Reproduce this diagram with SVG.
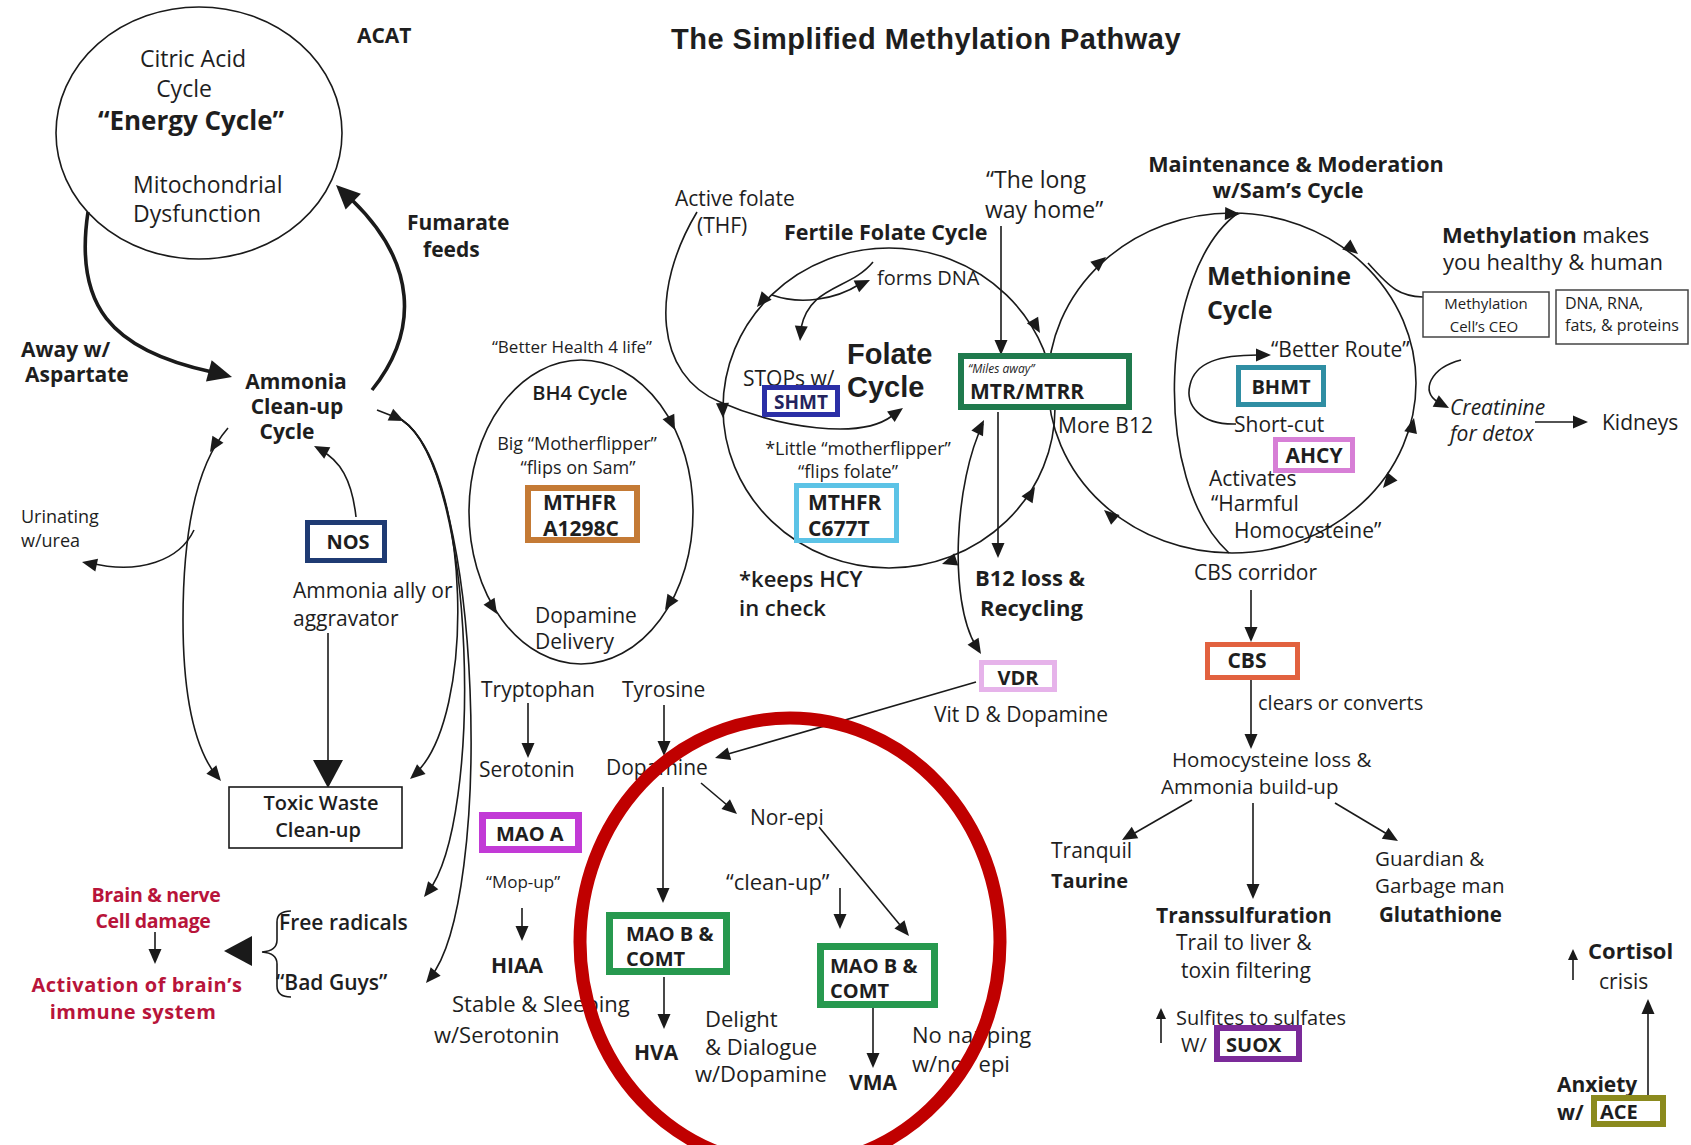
<svg xmlns="http://www.w3.org/2000/svg" width="1691" height="1145" viewBox="0 0 1691 1145">
<style>
.t{font-family:'Open Sans','Liberation Sans',Arial,sans-serif;fill:#1e1e1e;font-size:21px}
.b{font-weight:700}
.c{text-anchor:middle}
.i{font-style:italic}
.ln{fill:none;stroke:#1a1a1a;stroke-width:1.6}
.thk{stroke-width:3.6}
.bx{fill:#fff}
.red{fill:#b8143a}
.ah{fill:#1a1a1a}
</style>
<defs>
<path id="ah" d="M0,0 L-15,-6.5 L-15,6.5 Z"/>
<path id="ahS" d="M0,0 L-11,-5 L-11,5 Z"/>
<path id="ahB" d="M0,0 L-24,-11 L-24,11 Z"/>
<path id="ahX" d="M0,0 L-28,-15 L-28,15 Z"/>
</defs>
<rect width="1691" height="1145" fill="#fff"/>

<g id="title"><text class="t b" x="671" y="49" style="font-family:'Liberation Sans',Arial,sans-serif;font-size:29px;letter-spacing:0.5px">The Simplified Methylation Pathway</text></g>

<g id="connectors">
<path class="ln thk" d="M88,212 C74,305 110,350 212,372"/>
<use href="#ahB" class="ah" transform="translate(232,377) rotate(15)"/>
<path class="ln thk" d="M372,390 C420,330 416,262 352,200"/>
<use href="#ahB" class="ah" transform="translate(336,185) rotate(-136)"/>
<path class="ln" d="M228,428 C200,460 183,520 183,620 C183,700 195,750 218,778"/>
<use href="#ah" class="ah" transform="translate(210,452) rotate(122)"/>
<use href="#ah" class="ah" transform="translate(221,781) rotate(50)"/>
<path class="ln" d="M194,530 C180,560 140,575 90,563"/>
<use href="#ah" class="ah" transform="translate(82,562) rotate(192)"/>
<path class="ln" d="M356,517 C352,480 340,460 320,450"/>
<use href="#ah" class="ah" transform="translate(314,446) rotate(-152)"/>
<path class="ln" d="M328,633 L328,762"/>
<use href="#ahX" class="ah" transform="translate(328,788) rotate(90)"/>
<path class="ln" d="M377,410 L400,419"/>
<use href="#ah" class="ah" transform="translate(404,421) rotate(25)"/>
<path class="ln" d="M402,420 C470,468 478,718 414,775"/>
<use href="#ah" class="ah" transform="translate(410,779) rotate(139)"/>
<path class="ln" d="M402,420 C476,470 484,820 428,892"/>
<use href="#ah" class="ah" transform="translate(424,897) rotate(128)"/>
<path class="ln" d="M402,420 C482,472 494,900 430,978"/>
<use href="#ah" class="ah" transform="translate(426,983) rotate(130)"/>
<path class="ln" d="M155,932 L155,952"/>
<use href="#ah" class="ah" transform="translate(155,964) rotate(90)"/>
<use href="#ahX" class="ah" transform="translate(224,951) rotate(180)"/>
<path class="ln" d="M291,911 Q277,911 277,922 L277,940 Q277,951 262,952 Q277,953 277,964 L277,986 Q277,997 291,997"/>

<ellipse class="ln" cx="581" cy="512" rx="112" ry="152"/>
<use href="#ah" class="ah" transform="translate(675,430) rotate(64)"/>
<use href="#ah" class="ah" transform="translate(665,610) rotate(122)"/>
<use href="#ah" class="ah" transform="translate(497,614) rotate(58)"/>

<ellipse class="ln" cx="889" cy="408" rx="166" ry="160"/>
<use href="#ah" class="ah" transform="translate(757,307) rotate(130)"/>
<use href="#ah" class="ah" transform="translate(723,418) rotate(88)"/>
<use href="#ah" class="ah" transform="translate(942,564) rotate(162)"/>
<use href="#ah" class="ah" transform="translate(1035,487) rotate(-58)"/>
<use href="#ah" class="ah" transform="translate(1040,333) rotate(60)"/>
<path class="ln" d="M697,212 C650,290 655,375 720,402 C780,428 860,440 892,416"/>
<use href="#ah" class="ah" transform="translate(903,408) rotate(-36)"/>
<path class="ln" d="M772,295 C800,305 835,300 860,284"/>
<use href="#ah" class="ah" transform="translate(870,280) rotate(-25)"/>
<path class="ln" d="M873,262 C850,290 810,285 801,328"/>
<use href="#ah" class="ah" transform="translate(800,341) rotate(95)"/>
<path class="ln" d="M1001,226 L1001,342"/>
<use href="#ah" class="ah" transform="translate(1001,355) rotate(90)"/>
<path class="ln" d="M998,412 L998,545"/>
<use href="#ah" class="ah" transform="translate(998,558) rotate(90)"/>
<path class="ln" d="M983,424 C955,480 948,600 976,646"/>
<use href="#ah" class="ah" transform="translate(984,420) rotate(-63)"/>
<use href="#ah" class="ah" transform="translate(981,654) rotate(58)"/>
<path class="ln" d="M976,682 L728,754"/>
<use href="#ah" class="ah" transform="translate(715,758) rotate(164)"/>

<path class="ln" d="M528,703 L528,745"/>
<use href="#ah" class="ah" transform="translate(528,758) rotate(90)"/>
<path class="ln" d="M664,705 L664,743"/>
<use href="#ah" class="ah" transform="translate(664,756) rotate(90)"/>
<path class="ln" d="M701,783 L727,805"/>
<use href="#ah" class="ah" transform="translate(737,814) rotate(41)"/>
<path class="ln" d="M663,787 L663,889"/>
<use href="#ah" class="ah" transform="translate(663,903) rotate(90)"/>
<path class="ln" d="M522,908 L522,928"/>
<use href="#ah" class="ah" transform="translate(522,941) rotate(90)"/>
<path class="ln" d="M664,977 L664,1016"/>
<use href="#ah" class="ah" transform="translate(664,1029) rotate(90)"/>
<path class="ln" d="M840,888 L840,916"/>
<use href="#ah" class="ah" transform="translate(840,929) rotate(90)"/>
<path class="ln" d="M819,827 L900,925"/>
<use href="#ah" class="ah" transform="translate(909,936) rotate(50.5)"/>
<path class="ln" d="M873,1008 L873,1055"/>
<use href="#ah" class="ah" transform="translate(873,1068) rotate(90)"/>

<ellipse class="ln" cx="1232" cy="383" rx="184" ry="170"/>
<path class="ln" d="M1238,213 C1160,270 1150,480 1229,553"/>
<use href="#ah" class="ah" transform="translate(1106,257) rotate(-40)"/>
<use href="#ah" class="ah" transform="translate(1240,214) rotate(2)"/>
<use href="#ah" class="ah" transform="translate(1358,254) rotate(39)"/>
<use href="#ah" class="ah" transform="translate(1414,418) rotate(-77)"/>
<use href="#ah" class="ah" transform="translate(1383,488) rotate(129)"/>
<use href="#ah" class="ah" transform="translate(1104,510) rotate(-139)"/>
<path class="ln" d="M1368,263 C1392,290 1400,296 1423,297"/>
<path class="ln" d="M1236,424 C1200,425 1185,405 1190,385 C1195,362 1220,355 1258,355"/>
<use href="#ah" class="ah" transform="translate(1271,355) rotate(0)"/>
<path class="ln" d="M1461,360 C1430,368 1420,392 1438,402"/>
<use href="#ah" class="ah" transform="translate(1449,408) rotate(28)"/>
<path class="ln" d="M1535,422 L1575,422"/>
<use href="#ah" class="ah" transform="translate(1588,422) rotate(0)"/>
<path class="ln" d="M1251,590 L1251,629"/>
<use href="#ah" class="ah" transform="translate(1251,642) rotate(90)"/>
<path class="ln" d="M1251,680 L1251,736"/>
<use href="#ah" class="ah" transform="translate(1251,749) rotate(90)"/>
<path class="ln" d="M1192,800 L1133,834"/>
<use href="#ah" class="ah" transform="translate(1122,840) rotate(150)"/>
<path class="ln" d="M1253,803 L1253,886"/>
<use href="#ah" class="ah" transform="translate(1253,899) rotate(90)"/>
<path class="ln" d="M1335,803 L1387,834"/>
<use href="#ah" class="ah" transform="translate(1398,841) rotate(31)"/>
<path class="ln" d="M1161,1043 L1161,1019"/>
<use href="#ahS" class="ah" transform="translate(1161,1008) rotate(-90)"/>
<path class="ln" d="M1573,980 L1573,960"/>
<use href="#ahS" class="ah" transform="translate(1573,949) rotate(-90)"/>
<path class="ln" d="M1648,1097 L1648,1012"/>
<use href="#ah" class="ah" transform="translate(1648,999) rotate(-90)"/>
</g>

<g id="energy-cycle">
<ellipse class="ln" cx="199" cy="133" rx="143" ry="126"/>
<text class="t c" x="193" y="67" style="font-size:23px">Citric Acid</text>
<text class="t c" x="184" y="97" style="font-size:23px">Cycle</text>
<text class="t b c" x="191" y="130" style="font-size:26px">“Energy Cycle”</text>
<text class="t" x="133" y="193" style="font-size:23px">Mitochondrial</text>
<text class="t" x="133" y="222" style="font-size:23px">Dysfunction</text>
</g>
<g id="acat"><text class="t b" x="357" y="43">ACAT</text></g>
<g id="fumarate"><text class="t b" x="407" y="230">Fumarate</text><text class="t b" x="423" y="257">feeds</text></g>
<g id="aspartate"><text class="t b" x="21" y="357">Away w/</text><text class="t b" x="25" y="382">Aspartate</text></g>
<g id="ammonia-cycle">
<text class="t b c" x="296" y="389">Ammonia</text>
<text class="t b c" x="297" y="414">Clean-up</text>
<text class="t b c" x="287" y="439">Cycle</text>
</g>
<g id="urinating"><text class="t" x="21" y="523" style="font-size:18px">Urinating</text><text class="t" x="21" y="547" style="font-size:18px">w/urea</text></g>
<g id="nos">
<rect class="bx" x="307.5" y="522.5" width="77" height="38" stroke="#1f3b73" stroke-width="5"/>
<text class="t b c" x="348" y="549" style="font-size:20px">NOS</text>
</g>
<g id="ally"><text class="t" x="293" y="598">Ammonia ally or</text><text class="t" x="293" y="626">aggravator</text></g>
<g id="toxic-waste">
<rect class="bx" x="229" y="787" width="173" height="61" stroke="#1a1a1a" stroke-width="1.6"/>
<text class="t c" x="321" y="810" style="font-weight:600;font-size:20px">Toxic Waste</text>
<text class="t c" x="318" y="837" style="font-weight:600;font-size:20px">Clean-up</text>
</g>
<g id="brain-damage">
<text class="t b c red" x="156" y="902" style="font-size:19.5px;letter-spacing:-0.3px">Brain &amp; nerve</text>
<text class="t b c red" x="153" y="928" style="font-size:19.5px;letter-spacing:-0.3px">Cell damage</text>
</g>
<g id="brain-immune">
<text class="t b c red" x="137" y="992" style="font-size:20px;letter-spacing:0.5px">Activation of brain’s</text>
<text class="t b c red" x="133" y="1019" style="font-size:20px;letter-spacing:0.5px">immune system</text>
</g>
<g id="free-radicals"><text class="t" x="279" y="930" style="font-weight:600">Free radicals</text><text class="t" x="276" y="990" style="font-weight:600">“Bad Guys”</text></g>

<g id="bh4-cycle">
<text class="t c" x="572" y="353" style="font-size:17px">“Better Health 4 life”</text>
<text class="t c" x="580" y="400" style="font-size:20px;font-weight:600">BH4 Cycle</text>
<text class="t c" x="577" y="450" style="font-size:18px">Big “Motherflipper”</text>
<text class="t c" x="578" y="474" style="font-size:18px">“flips on Sam”</text>
<text class="t" x="535" y="623">Dopamine</text>
<text class="t" x="535" y="649">Delivery</text>
</g>
<g id="mthfr-a1298c">
<rect class="bx" x="528" y="488" width="109" height="52" stroke="#c47a35" stroke-width="6"/>
<text class="t b" x="543" y="510">MTHFR</text>
<text class="t b" x="543" y="536">A1298C</text>
</g>

<g id="folate-cycle">
<text class="t" x="675" y="206" style="font-size:21px">Active folate</text>
<text class="t" x="697" y="233" style="font-size:21px">(THF)</text>
<text class="t b" x="784" y="240" style="font-size:21.5px">Fertile Folate Cycle</text>
<text class="t" x="877" y="285" style="font-size:20px">forms DNA</text>
<text class="t b" x="847" y="364" style="font-family:'Liberation Sans',Arial,sans-serif;font-size:29px">Folate</text>
<text class="t b" x="847" y="397" style="font-family:'Liberation Sans',Arial,sans-serif;font-size:29px">Cycle</text>
<text class="t" x="743" y="386">STOPs w/</text>
<text class="t c" x="858" y="455" style="font-size:18px">*Little “motherflipper”</text>
<text class="t c" x="848" y="478" style="font-size:18px">“flips folate”</text>
<text class="t" x="739" y="587" style="font-weight:600;font-size:22px">*keeps HCY</text>
<text class="t" x="739" y="616" style="font-weight:600;font-size:22px">in check</text>
</g>
<g id="shmt">
<rect class="bx" x="764.5" y="387.5" width="73" height="27" stroke="#2b2fa6" stroke-width="5"/>
<text class="t b c" x="801" y="409" style="font-size:19px;fill:#24245e">SHMT</text>
</g>
<g id="mthfr-c677t">
<rect class="bx" x="796.5" y="485.5" width="100" height="55" stroke="#5cc3e6" stroke-width="5"/>
<text class="t b" x="808" y="510">MTHFR</text>
<text class="t b" x="808" y="536">C677T</text>
</g>
<g id="long-way"><text class="t" x="986" y="188" style="font-size:23px">“The long</text><text class="t" x="985" y="218" style="font-size:23px">way home”</text></g>
<g id="mtr-mtrr">
<rect class="bx" x="961" y="356" width="168" height="51" stroke="#1f7a4d" stroke-width="6"/>
<text class="t i" x="968" y="373" style="font-size:12px">“Miles away”</text>
<text class="t b" x="970" y="399">MTR/MTRR</text>
</g>
<g id="more-b12"><text class="t" x="1058" y="433">More B12</text></g>
<g id="b12-loss"><text class="t b" x="975" y="586" style="font-size:22px">B12 loss &amp;</text><text class="t b" x="980" y="616" style="font-size:22px">Recycling</text></g>
<g id="vdr">
<rect class="bx" x="981.5" y="662.5" width="73" height="27" stroke="#e6b3ea" stroke-width="5"/>
<text class="t b c" x="1018" y="685" style="font-size:20px">VDR</text>
<text class="t" x="934" y="722">Vit D &amp; Dopamine</text>
</g>

<g id="neuro">
<text class="t" x="481" y="697">Tryptophan</text>
<text class="t" x="622" y="697">Tyrosine</text>
<text class="t" x="479" y="777">Serotonin</text>
<text class="t" x="606" y="775">Dopamine</text>
<text class="t" x="750" y="825">Nor-epi</text>
<text class="t" x="486" y="888" style="font-size:17px">“Mop-up”</text>
<text class="t b" x="491" y="973">HIAA</text>
<text class="t" x="452" y="1012" style="font-size:22px">Stable &amp; Sleeping</text>
<text class="t" x="434" y="1043" style="font-size:22px">w/Serotonin</text>
<text class="t" x="726" y="890" style="font-size:22px">“clean-up”</text>
<text class="t b" x="634" y="1060">HVA</text>
<text class="t" x="705" y="1027" style="font-size:22px">Delight</text>
<text class="t" x="705" y="1055" style="font-size:22px">&amp; Dialogue</text>
<text class="t" x="695" y="1082" style="font-size:22px">w/Dopamine</text>
<text class="t b" x="849" y="1090">VMA</text>
<text class="t" x="912" y="1043" style="font-size:22px">No napping</text>
<text class="t" x="912" y="1072" style="font-size:22px">w/nor epi</text>
</g>
<g id="mao-a">
<rect class="bx" x="482.5" y="815.5" width="96" height="34" stroke="#c23ad6" stroke-width="7"/>
<text class="t b" x="496" y="841" style="font-size:20px">MAO A</text>
</g>
<g id="mao-b-1">
<rect class="bx" x="609.5" y="915.5" width="117" height="56" stroke="#27994f" stroke-width="7"/>
<text class="t b" x="626" y="941" style="font-size:20px">MAO B &amp;</text>
<text class="t b" x="626" y="966" style="font-size:20px">COMT</text>
</g>
<g id="mao-b-2">
<rect class="bx" x="820.5" y="946.5" width="114" height="58" stroke="#27994f" stroke-width="7"/>
<text class="t b" x="830" y="973" style="font-size:20px">MAO B &amp;</text>
<text class="t b" x="830" y="998" style="font-size:20px">COMT</text>
</g>

<g id="sam-cycle">
<text class="t b c" x="1296" y="172" style="font-size:21.6px">Maintenance &amp; Moderation</text>
<text class="t b c" x="1288" y="198" style="font-size:21.6px">w/Sam’s Cycle</text>
<text class="t b" x="1207" y="285" style="font-size:25px">Methionine</text>
<text class="t b" x="1207" y="319" style="font-size:25px">Cycle</text>
<text class="t" x="1271" y="357">“Better Route”</text>
<text class="t" x="1234" y="432">Short-cut</text>
<text class="t" x="1209" y="486">Activates</text>
<text class="t" x="1211" y="511">“Harmful</text>
<text class="t" x="1234" y="538">Homocysteine”</text>
<text class="t" x="1194" y="580">CBS corridor</text>
</g>
<g id="bhmt">
<rect class="bx" x="1238.5" y="367.5" width="85" height="37" stroke="#2f8ea3" stroke-width="5"/>
<text class="t b c" x="1281" y="394" style="font-size:20px">BHMT</text>
</g>
<g id="ahcy">
<rect class="bx" x="1275.5" y="439.5" width="77" height="31" stroke="#d77fd6" stroke-width="5"/>
<text class="t b c" x="1314" y="463">AHCY</text>
</g>
<g id="methylation">
<text class="t" x="1442" y="243" style="font-size:22px"><tspan class="b">Methylation</tspan> makes</text>
<text class="t" x="1443" y="270" style="font-size:22px">you healthy &amp; human</text>
</g>
<g id="cell-ceo">
<rect x="1423" y="292" width="126" height="45" fill="#fff" stroke="#444" stroke-width="1.5"/>
<text class="t c" x="1486" y="309" style="font-size:15px">Methylation</text>
<text class="t c" x="1484" y="332" style="font-size:15px">Cell’s CEO</text>
</g>
<g id="dna-rna">
<rect x="1556" y="290" width="132" height="54" fill="#fff" stroke="#444" stroke-width="1.5"/>
<text class="t" x="1565" y="309" style="font-size:16px">DNA, RNA,</text>
<text class="t" x="1565" y="331" style="font-size:16px">fats, &amp; proteins</text>
</g>
<g id="creatinine">
<text class="t i" x="1450" y="415">Creatinine</text>
<text class="t i" x="1450" y="441">for detox</text>
</g>
<g id="kidneys"><text class="t" x="1602" y="430">Kidneys</text></g>
<g id="cbs">
<rect class="bx" x="1207.5" y="644.5" width="90" height="33" stroke="#e2623f" stroke-width="5"/>
<text class="t b c" x="1247" y="668">CBS</text>
<text class="t" x="1258" y="710" style="font-size:20px">clears or converts</text>
</g>
<g id="hcy-loss">
<text class="t" x="1172" y="767" style="font-size:20.5px">Homocysteine loss &amp;</text>
<text class="t" x="1161" y="794" style="font-size:20.5px">Ammonia build-up</text>
</g>
<g id="taurine"><text class="t" x="1051" y="858">Tranquil</text><text class="t b" x="1051" y="888" style="font-size:20px">Taurine</text></g>
<g id="glutathione">
<text class="t" x="1375" y="866" style="font-size:20.5px">Guardian &amp;</text>
<text class="t" x="1375" y="893" style="font-size:20.5px">Garbage man</text>
<text class="t b" x="1379" y="922" style="font-size:20.5px">Glutathione</text>
</g>
<g id="transsulfuration">
<text class="t b" x="1156" y="923">Transsulfuration</text>
<text class="t" x="1176" y="950">Trail to liver &amp;</text>
<text class="t" x="1181" y="978">toxin filtering</text>
</g>
<g id="suox">
<text class="t" x="1176" y="1025" style="font-size:20px">Sulfites to sulfates</text>
<text class="t" x="1181" y="1052" style="font-size:20px">W/</text>
<rect class="bx" x="1217" y="1028" width="82" height="31" stroke="#7b2a99" stroke-width="6"/>
<text class="t b" x="1226" y="1052" style="font-size:20px">SUOX</text>
</g>
<g id="cortisol"><text class="t b" x="1588" y="959" style="font-size:22px">Cortisol</text><text class="t" x="1599" y="989" style="font-size:21px">crisis</text></g>
<g id="ace">
<text class="t b" x="1557" y="1092">Anxiety</text>
<text class="t b" x="1557" y="1120">w/</text>
<rect class="bx" x="1594" y="1098" width="69" height="26" stroke="#8b8a1e" stroke-width="6"/>
<text class="t b" x="1600" y="1119" style="font-size:20px">ACE</text>
</g>

<g id="highlight"><ellipse cx="790" cy="942" rx="210" ry="224" fill="none" stroke="#c00000" stroke-width="13"/></g>
</svg>
